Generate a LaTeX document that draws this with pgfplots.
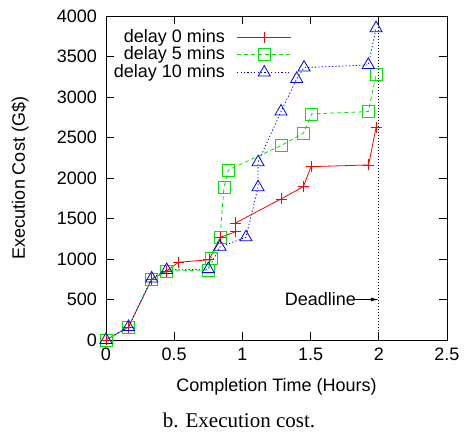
\documentclass[border=0pt]{standalone}
\usepackage{pgfplots}
\pgfplotsset{compat=1.18}
\usepackage{fontspec}
\setmainfont{Liberation Sans}
\newfontfamily\capfont{Liberation Serif}
\usetikzlibrary{arrows.meta}
\definecolor{gpgreen}{RGB}{0,230,0}
\begin{document}
\fontsize{18}{21}\selectfont
\begin{tikzpicture}
\begin{axis}[
 scale only axis, width=341pt, height=324pt,
 xmin=0, xmax=2.5, ymin=0, ymax=4000,
 xtick={0,0.5,1,1.5,2,2.5}, ytick={0,500,...,4000},
 xticklabels={0,0.5,1,1.5,2,2.5},
 tick align=inside, major tick length=8pt,
 axis line style={line width=0.9pt},
 every tick/.style={black, line width=0.9pt},
 tick label style={font=\fontsize{18}{21}\selectfont},
 /pgf/number format/assume math mode=true,
 scaled y ticks=false,
 yticklabel style={/pgf/number format/1000 sep={}, xshift=-3pt},
 xticklabel style={yshift=-2pt},
 clip=false,
 xlabel={Completion Time (Hours)},
 ylabel={Execution Cost (G\$)},
 every axis x label/.style={at={(axis description cs:0.5,0)}, anchor=center, yshift=-47pt, font=\fontsize{18}{21}\selectfont},
 every axis y label/.style={at={(axis description cs:0,0.5)}, xshift=-86pt, rotate=90, anchor=center, font=\fontsize{18}{21}\selectfont},
 legend style={draw=none, fill=none, at={(axis description cs:0.545,0.966)}, anchor=north east, inner sep=0pt, row sep=-2pt, font=\fontsize{18}{21}\selectfont, cells={anchor=east}, /tikz/every odd column/.append style={column sep=10pt}},
 legend plot pos=right,
 legend image code/.code={\draw[mark repeat=2,mark phase=2,#1] plot coordinates {(0pt,0pt) (27pt,0pt) (54pt,0pt)};},
]
\addplot[red, line width=0.8pt, mark=+, mark size=5.5pt, mark options={solid, line width=0.8pt}] coordinates {
(0,0) (0.165,160) (0.335,750) (0.445,850) (0.53,960) (0.755,990) (0.836,1268) (0.95,1335) (0.95,1445) (1.283,1741) (1.447,1893) (1.503,2140) (1.925,2161) (1.98,2622)};
\addlegendentry{delay 0 mins}
\addplot[gpgreen, line width=0.8pt, dash pattern=on 4pt off 3pt, mark=square, mark size=6pt, mark options={solid, line width=0.8pt}] coordinates {
(0,0) (0.165,160) (0.335,750) (0.445,850) (0.75,864) (0.77,1009) (0.836,1268) (0.865,1886) (0.897,2099) (1.283,2400) (1.447,2552) (1.508,2791) (1.923,2820) (1.98,3273)};
\addlegendentry{delay 5 mins}
\addplot[blue, line width=0.8pt, dash pattern=on 1.2pt off 2.2pt, mark=triangle, mark size=7pt, mark options={solid, line width=0.8pt}] coordinates {
(0,0) (0.165,160) (0.335,760) (0.445,864) (0.75,875) (0.836,1150) (1.026,1268) (1.115,1886) (1.115,2195) (1.283,2820) (1.398,3223) (1.452,3363) (1.923,3396) (1.98,3849)};
\addlegendentry{delay 10 mins}
\addplot[black, line width=0.7pt, dash pattern=on 1pt off 2pt, forget plot] coordinates {(2,0) (2,4000)};
\draw[-{Latex[length=8pt,width=4pt]}, line width=0.8pt] (axis cs:1.81,500) -- (axis cs:2,500);
\node[anchor=west, inner sep=0pt] at (axis cs:1.31,500) {Deadline};
\coordinate (sw) at (rel axis cs:0,0);
\end{axis}
\node[font=\capfont\fontsize{21}{24}\selectfont] at ([xshift=133pt,yshift=-80pt]sw) {b. Execution cost.};
\pgfresetboundingbox
\path[use as bounding box] ([xshift=-106pt,yshift=-93pt]sw) rectangle ++(464pt,433pt);
\end{tikzpicture}
\end{document}
